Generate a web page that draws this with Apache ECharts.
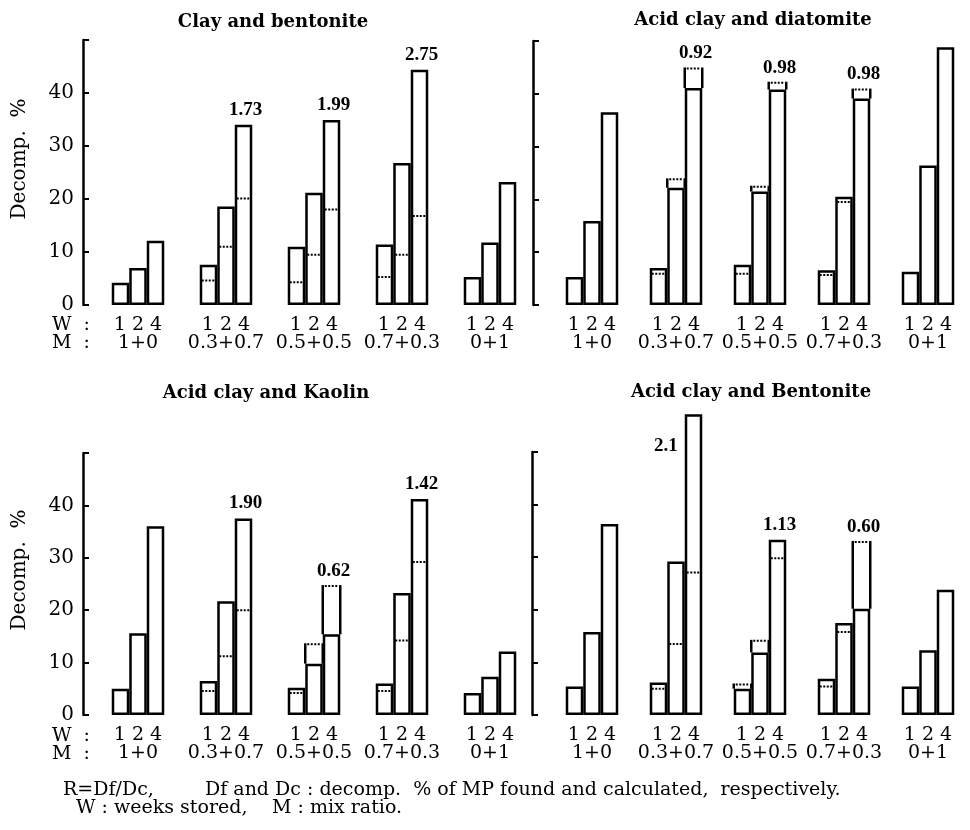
<!DOCTYPE html>
<html>
<head>
<meta charset="utf-8">
<title>Decomp. % of MP</title>
<script src="https://cdn.jsdelivr.net/npm/echarts@6/dist/echarts.min.js"></script>
<style>
    html, body { margin: 0; padding: 0; background: #fff; }
    #main { width: 970px; height: 830px; }
</style>
</head>
<body>
<div id="main"></div>
<script>
// categories
var mixList = ['1+0', '0.3+0.7', '0.5+0.5', '0.7+0.3', '0+1'];
var weekList = ['1', '2', '4'];

// Clay and bentonite : found (rows = weeks 1,2,4)
var cbFound = [
    [4.2, 7.6, 11.0, 11.4, 5.3],
    [7.0, 18.6, 21.2, 26.8, 11.8],
    [12.1, 34.0, 34.9, 44.4, 23.2]
];
var cbCalc = [
    [null, 4.6, 4.3, 5.3, null],
    [null, 11.0, 9.5, 9.5, null],
    [null, 20.1, 18.0, 16.8, null]
];
var cbR = ['', '1.73', '1.99', '2.75', ''];

// Acid clay and diatomite
var adFound = [
    [5.3, 7.0, 7.6, 6.6, 6.3],
    [15.9, 22.2, 21.5, 20.5, 26.4],
    [36.5, 41.1, 40.8, 39.1, 48.8]
];
var adCalc = [
    [null, 5.9, 5.9, 5.7, null],
    [null, 23.8, 22.4, 19.5, null],
    [null, 44.8, 42.1, 40.8, null]
];
var adR = ['', '0.92', '0.98', '0.98', ''];

// Acid clay and Kaolin
var akFound = [
    [5.0, 6.5, 5.2, 6.0, 4.2],
    [15.6, 21.7, 9.8, 23.3, 7.3],
    [36.0, 37.5, 15.4, 41.2, 12.1]
];
var akCalc = [
    [null, 4.6, 4.2, 4.6, null],
    [null, 11.2, 13.5, 14.2, null],
    [null, 20.0, 24.6, 29.2, null]
];
var akR = ['', '1.90', '0.62', '1.42', ''];

// Acid clay and Bentonite
var abFound = [
    [5.4, 6.2, 5.0, 6.9, 5.4],
    [15.8, 29.2, 11.9, 17.5, 12.3],
    [36.3, 57.2, 33.3, 20.2, 23.8]
];
var abCalc = [
    [null, 5.0, 5.8, 5.4, null],
    [null, 13.5, 14.1, 15.8, null],
    [null, 27.1, 29.8, 32.9, null]
];
var abR = ['', '2.1', '1.13', '0.60', ''];

var yTicks = ['0', '10', '20', '30', '40'];

var FONT = 'DejaVu Serif';
var BAR_W = 17.5;
var Y_MAX = 50;

var panels = [
    { title: 'Clay and bentonite', found: cbFound, calc: cbCalc, r: cbR,
      grid: { left: 94, top: 40, width: 440, height: 265 }, offset: 11, labels: true, titleX: 273, titleY: 22 },
    { title: 'Acid clay and diatomite', found: adFound, calc: adCalc, r: adR,
      grid: { left: 550, top: 41, width: 437, height: 264 }, offset: 17, labels: false, titleX: 753, titleY: 20 },
    { title: 'Acid clay and Kaolin', found: akFound, calc: akCalc, r: akR,
      grid: { left: 94, top: 453, width: 440, height: 262 }, offset: 11, labels: true, titleX: 266, titleY: 393 },
    { title: 'Acid clay and Bentonite', found: abFound, calc: abCalc, r: abR,
      grid: { left: 550, top: 452, width: 437, height: 263 }, offset: 18, labels: false, titleX: 751, titleY: 392 }
];

/**
 * x轴标签 : "1 2 4" + 混合比
 */
function catLabels () {
    var arr = [];
    for (var i = 0; i < mixList.length; i++) {
        arr.push(weekList.join(' ') + '\n' + mixList[i]);
    }
    return arr;
}

/**
 * 计算值 (虚线) : 画在柱子里, 超过实测值时把柱子两边延长
 */
function calcRender (params, api) {
    var cat = api.value(0);
    var calc = api.value(1);
    var found = api.value(2);
    var wk = api.value(3);
    var center = api.coord([cat, 0])[0];
    var left = center - 1.5 * BAR_W + wk * BAR_W;
    var yc = api.coord([cat, calc])[1];
    var yf = api.coord([cat, found])[1];
    var children = [{
        type: 'line',
        shape: { x1: left + 2, y1: yc, x2: left + BAR_W - 2, y2: yc },
        style: { stroke: '#000', lineWidth: 2, lineDash: [2, 1.5] }
    }];
    if (calc > found) {
        children.push({
            type: 'line',
            shape: { x1: left, y1: yf, x2: left, y2: yc - 1 },
            style: { stroke: '#000', lineWidth: 2.5 }
        });
        children.push({
            type: 'line',
            shape: { x1: left + BAR_W, y1: yf, x2: left + BAR_W, y2: yc - 1 },
            style: { stroke: '#000', lineWidth: 2.5 }
        });
    }
    return { type: 'group', children: children };
}

/**
 * R = Df/Dc 标签, 放在4周柱子上方
 */
function makeRRender (rList) {
    return function (params, api) {
        var cat = api.value(0);
        var top = api.value(1);
        var center = api.coord([cat, 0])[0];
        var x = center + BAR_W + 2;
        var y;
        var align = 'center';
        if (top > Y_MAX) {
            // 太高的柱子 : 标签放在左边
            x = center + 0.5 * BAR_W - 7;
            y = api.coord([cat, Y_MAX])[1] - 6;
            align = 'right';
        } else {
            y = api.coord([cat, top])[1] - 15;
        }
        return {
            type: 'text',
            x: x,
            y: y,
            style: {
                text: rList[cat],
                fill: '#000',
                font: 'bold 19px "Liberation Serif"',
                align: align,
                verticalAlign: 'middle',
                textAlign: align,
                textVerticalAlign: 'middle'
            }
        };
    };
}

var grids = [], xAxes = [], yAxes = [], series = [], graphics = [];

for (var p = 0; p < panels.length; p++) {
    var pn = panels[p];
    grids.push(pn.grid);
    xAxes.push({
        type: 'category',
        gridIndex: p,
        data: catLabels(),
        axisLine: { show: false },
        axisTick: { show: false },
        axisLabel: {
            color: '#000',
            fontFamily: FONT,
            fontSize: 19,
            lineHeight: 18,
            margin: 11,
            interval: 0
        }
    });
    yAxes.push({
        type: 'value',
        gridIndex: p,
        min: 0,
        max: Y_MAX,
        interval: 10,
        offset: pn.offset,
        splitLine: { show: false },
        axisLine: { show: true, lineStyle: { color: '#000', width: 2.5 } },
        axisTick: { show: true, inside: true, length: 6, lineStyle: { color: '#000', width: 2 } },
        axisLabel: {
            show: pn.labels,
            color: '#000',
            fontFamily: FONT,
            fontSize: 20,
            margin: 9,
            formatter: function (v) {
                var idx = v / 10;
                return idx < yTicks.length ? yTicks[idx] : '';
            }
        }
    });

    // 实测值柱子
    for (var w = 0; w < weekList.length; w++) {
        series.push({
            type: 'bar',
            xAxisIndex: p,
            yAxisIndex: p,
            data: pn.found[w],
            barWidth: BAR_W,
            barGap: '0%',
            clip: false,
            silent: true,
            itemStyle: { color: '#fff', borderColor: '#000', borderWidth: 2.5 }
        });
    }

    // 计算值虚线
    var calcData = [];
    for (var w2 = 0; w2 < weekList.length; w2++) {
        for (var c = 0; c < mixList.length; c++) {
            if (pn.calc[w2][c] != null) {
                calcData.push([c, pn.calc[w2][c], pn.found[w2][c], w2]);
            }
        }
    }
    series.push({
        type: 'custom',
        xAxisIndex: p,
        yAxisIndex: p,
        data: calcData,
        encode: { x: 0, y: 1 },
        clip: false,
        silent: true,
        z: 5,
        renderItem: calcRender
    });

    // R 标签
    var rData = [];
    for (var c2 = 0; c2 < mixList.length; c2++) {
        if (pn.r[c2]) {
            var f4 = pn.found[2][c2], c4 = pn.calc[2][c2];
            rData.push([c2, c4 != null && c4 > f4 ? c4 : f4]);
        }
    }
    series.push({
        type: 'custom',
        xAxisIndex: p,
        yAxisIndex: p,
        data: rData,
        encode: { x: 0, y: 1 },
        clip: false,
        silent: true,
        z: 6,
        renderItem: makeRRender(pn.r)
    });

    graphics.push({
        type: 'text',
        x: pn.titleX,
        y: pn.titleY,
        style: {
            text: pn.title, fill: '#000',
            font: 'bold 18px "' + FONT + '"',
            align: 'center', verticalAlign: 'middle',
            textAlign: 'center', textVerticalAlign: 'middle'
        }
    });
}

// 纵轴名称, W/M 说明
function addText (txt, x, y, size, rot) {
    graphics.push({
        type: 'text',
        x: x,
        y: y,
        rotation: rot || 0,
        style: {
            text: txt, fill: '#000',
            font: size + 'px "' + FONT + '"',
            align: rot ? 'center' : 'left', verticalAlign: 'middle',
            textAlign: rot ? 'center' : 'left', textVerticalAlign: 'middle'
        }
    });
}
addText('Decomp.  %', 20, 159, 20, Math.PI / 2);
addText('Decomp.  %', 20, 570, 20, Math.PI / 2);
addText('W  :', 52, 325, 19);
addText('M  :', 52, 343, 19);
addText('W  :', 52, 736, 19);
addText('M  :', 52, 754, 19);
addText('R=Df/Dc,', 63, 790, 19);
addText('Df and Dc : decomp.  % of MP found and calculated,  respectively.', 205, 790, 19);
addText('W : weeks stored,', 76, 808, 19);
addText('M : mix ratio.', 272, 808, 19);

var chart = echarts.init(document.getElementById('main'));
chart.setOption({
    backgroundColor: '#fff',
    animation: false,
    grid: grids,
    xAxis: xAxes,
    yAxis: yAxes,
    series: series,
    graphic: graphics
});
</script>
</body>
</html>
